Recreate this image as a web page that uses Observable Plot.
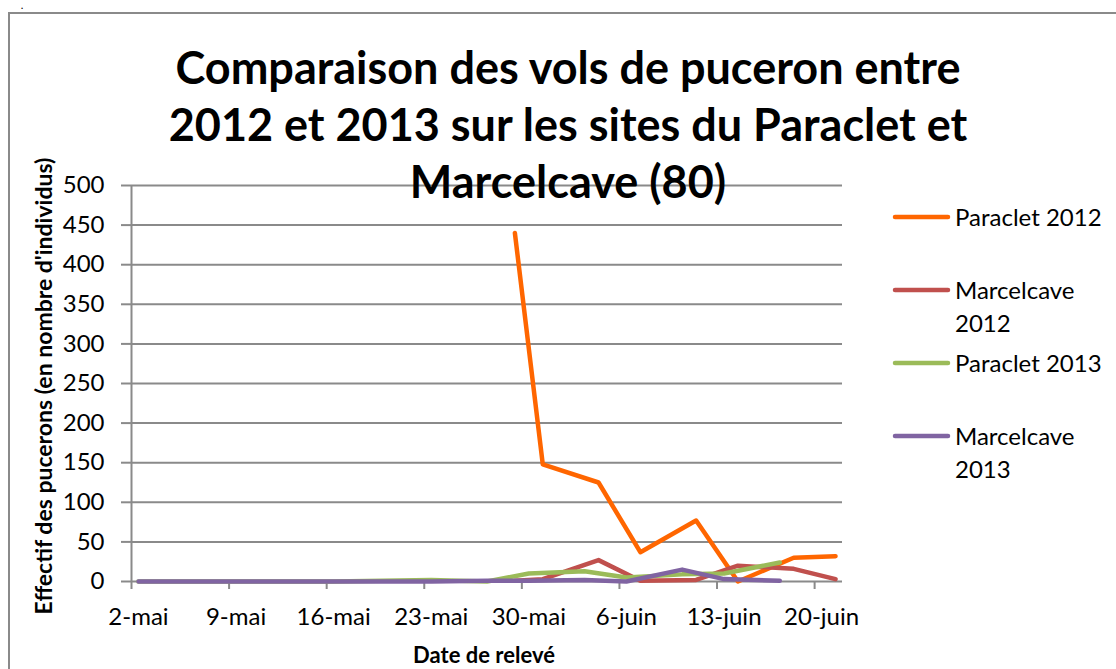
<!DOCTYPE html>
<html><head><meta charset="utf-8">
<script src="https://cdn.jsdelivr.net/npm/d3@7"></script>
<script src="https://cdn.jsdelivr.net/npm/@observablehq/plot@0.6"></script>
<style>
body{margin:0;background:#fff;font-family:Lato,sans-serif;color:#000;}
#wrap{position:relative;width:1116px;height:669px;overflow:hidden;background:#fff;}
#frame{position:absolute;left:8px;top:12px;width:1200px;height:800px;border-left:2px solid #8a8a8a;border-top:2px solid #8a8a8a;}
#dot{position:absolute;left:21px;top:0px;font-size:9px;line-height:normal;font-weight:bold;}
#chart{position:absolute;left:0;top:0;}
#title{position:absolute;left:68px;width:1000px;top:39px;text-align:center;font-weight:bold;font-size:45px;line-height:57px;}
#ylab{position:absolute;left:43px;top:386px;width:600px;text-align:center;font-weight:bold;font-size:23px;white-space:nowrap;transform:translate(-50%,-50%) rotate(-90deg);}
#xlab{position:absolute;left:384px;width:200px;top:641px;text-align:center;font-weight:bold;font-size:22px;white-space:nowrap;}
#legend{position:absolute;left:892px;top:200px;}
.item{height:73px;display:flex;align-items:flex-start;}
.item svg{flex:none;margin-top:12px;}
.item span{display:block;width:160px;font-size:24px;line-height:33px;margin-left:3px;}
</style></head><body>
<div id="wrap">
 <div id="frame"></div>
 <div id="dot">.</div>
 <div id="chart"></div>
 <div id="title">Comparaison des vols de puceron entre<br>2012 et 2013 sur les sites du Paraclet et<br>Marcelcave (80)</div>
 <div id="ylab">Effectif des pucerons (en nombre d'individus)</div>
 <div id="xlab">Date de relevé</div>
 <div id="legend"></div>
</div>
<script>
// ---- data ----
const seriesNames = ["Paraclet 2012", "Marcelcave 2012", "Paraclet 2013", "Marcelcave 2013"];
const seriesColors = ["#ff6600", "#c0504d", "#9bbb59", "#8064a2"];

const dates2012 = ["05-29", "05-31", "06-04", "06-07", "06-11", "06-14", "06-18", "06-21"];
const paraclet2012 = [440, 148, 125, 37, 77, 0, 30, 32];
const marcelcave2012 = [1, 3, 27, 1, 2, 20, 16, 3];

const dates2013 = ["05-02", "05-09", "05-16", "05-23", "05-27", "05-30", "06-03", "06-06", "06-10", "06-13", "06-17"];
const paraclet2013 = [0, 0, 0, 2, 0, 10, 13, 5, 9, 10, 24];
const marcelcave2013 = [0, 0, 0, 0, 1, 1, 2, 0, 15, 3, 1];

const tickDates = ["05-02", "05-09", "05-16", "05-23", "05-30", "06-06", "06-13", "06-20"];
const tickLabels = ["2-mai", "9-mai", "16-mai", "23-mai", "30-mai", "6-juin", "13-juin", "20-juin"];
const yTicks = [0, 50, 100, 150, 200, 250, 300, 350, 400, 450, 500];
const axisStart = "05-02";
const axisEnd = "06-22";

// ---- build ----
const dayStart = s => new Date(`2012-${s}T00:00:00Z`);   // category slot boundary
const dayMid = s => new Date(`2012-${s}T12:00:00Z`);     // category slot centre (Excel date axis)

const rows = [];
const addSeries = (name, dates, values) => dates.forEach((d, i) => rows.push({series: name, date: dayMid(d), value: values[i]}));
addSeries(seriesNames[0], dates2012, paraclet2012);
addSeries(seriesNames[1], dates2012, marcelcave2012);
addSeries(seriesNames[2], dates2013, paraclet2013);
addSeries(seriesNames[3], dates2013, marcelcave2013);

const labelByTime = new Map(tickDates.map((d, i) => [+dayMid(d), tickLabels[i]]));
const xDomain = [dayStart(axisStart), dayStart(axisEnd)];
const grey = "#8a8a8a";

const chart = Plot.plot({
  width: 1116, height: 669,
  marginLeft: 131, marginRight: 274, marginTop: 185, marginBottom: 88,
  style: {fontFamily: "Lato, sans-serif", fontSize: "24px", color: "#000", background: "transparent", overflow: "visible"},
  x: {type: "utc", domain: xDomain},
  y: {domain: [0, 500]},
  color: {domain: seriesNames, range: seriesColors},
  marks: [
    Plot.gridY(yTicks, {stroke: grey, strokeOpacity: 1, strokeWidth: 2}),
    Plot.ruleX([xDomain[0]], {stroke: grey, strokeWidth: 2}),
    Plot.axisY({ticks: yTicks, tickSize: 10, tickPadding: 17, stroke: grey, strokeWidth: 2, label: null, fill: "#000", fontSize: 24}),
    Plot.axisX({ticks: tickDates.map(dayStart), tickSize: 8, tickFormat: () => "", stroke: grey, strokeWidth: 2, label: null}),
    Plot.axisX({ticks: tickDates.map(dayMid), tickSize: 0, tickPadding: 26, tickFormat: d => labelByTime.get(+d), label: null, fill: "#000", fontSize: 24}),
    Plot.line(rows, {x: "date", y: "value", z: "series", stroke: "series", strokeWidth: 4.5, strokeLinejoin: "round", strokeLinecap: "round"})
  ]
});
document.getElementById("chart").appendChild(chart);

// legend
const legend = document.getElementById("legend");
seriesNames.forEach((name, i) => {
  const item = document.createElement("div");
  item.className = "item";
  item.innerHTML = `<svg width="60" height="10"><line x1="3" y1="5" x2="56" y2="5" stroke="${seriesColors[i]}" stroke-width="4.5" stroke-linecap="round"/></svg><span>${name}</span>`;
  legend.appendChild(item);
});
</script>
</body></html>
